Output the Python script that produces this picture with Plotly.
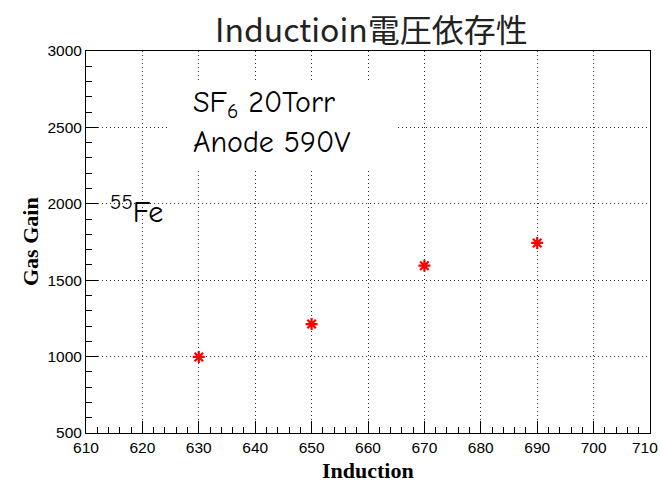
import plotly.graph_objects as go

# Induction voltage scan (SF6 20 Torr, anode 590 V, 55Fe source)
induction = [630, 650, 670, 690]
gas_gain = [998, 1213, 1595, 1744]

x_range = [610, 710]
y_range = [500, 3000]
x_ticks = list(range(610, 711, 10))

title_text = "Inductioin電圧依存性"
x_title = "Induction"
y_title = "Gas Gain"

W, H = 661, 482
margin = dict(l=86, r=11, t=51, b=49, autoexpand=False)
plot_w = W - margin["l"] - margin["r"]
plot_h = H - margin["t"] - margin["b"]


def px_x(px):
    return (px - margin["l"]) / plot_w


def px_y(py):
    return (H - margin["b"] - py) / plot_h


fig = go.Figure()
fig.add_trace(go.Scatter(
    x=induction, y=gas_gain, mode="markers",
    marker=dict(symbol="asterisk-open", size=10,
                line=dict(color="red", width=2.2), color="red"),
    showlegend=False,
))

tick_font = dict(family="Liberation Sans, Arial", size=15.5, color="black")
axis_common = dict(
    showline=True, mirror=True, linecolor="black", linewidth=1,
    ticks="inside", ticklen=12, tickcolor="black", tickwidth=1,
    showgrid=True, gridcolor="#333", griddash="1px,3px", gridwidth=1,
    zeroline=False, automargin=False, tickfont=tick_font,
)

# last x label is right-aligned at the canvas edge, so it is placed separately
fig.update_xaxes(range=x_range, tickvals=x_ticks,
                 ticktext=[str(v) if v != x_ticks[-1] else "" for v in x_ticks],
                 minor=dict(ticks="inside", ticklen=6, dtick=2, tickcolor="black", showgrid=False),
                 **axis_common)
fig.update_yaxes(range=y_range, dtick=500, tick0=500,
                 minor=dict(ticks="inside", ticklen=6, dtick=100, tickcolor="black", showgrid=False),
                 **axis_common)
fig.add_annotation(x=x_ticks[-1], xref="x", y=0, yref="paper", text=str(x_ticks[-1]),
                   xanchor="right", yanchor="top", xshift=10, yshift=-4,
                   showarrow=False, font=tick_font)

# white pave behind the run conditions
fig.add_shape(type="rect", xref="paper", yref="paper",
              x0=px_x(170), x1=px_x(396), y0=px_y(170), y1=px_y(80),
              fillcolor="white", line=dict(width=0), layer="above")

label_font = dict(family="Comic Sans MS, Comic Neue, DejaVu Sans", size=30, color="black")
annotations = [
    dict(text=title_text, x=px_x(371), y=px_y(28), font=dict(family="Noto Sans CJK JP", size=32, color="#222")),
    dict(text="SF<sub>6</sub> 20Torr", x=px_x(191), y=px_y(104), xanchor="left", font=label_font),
    dict(text="Anode 590V", x=px_x(191), y=px_y(142), xanchor="left", font=label_font),
    dict(text="<sup>55</sup>Fe", x=px_x(108), y=px_y(210), xanchor="left", font=label_font),
    dict(text="<b>" + x_title + "</b>", x=px_x(368), y=px_y(470),
         font=dict(family="Liberation Serif, Times New Roman", size=22, color="black")),
    dict(text="<b>" + y_title + "</b>", x=px_x(30), y=px_y(242), textangle=-90,
         font=dict(family="Liberation Serif, Times New Roman", size=22, color="black")),
]
for a in annotations:
    a.setdefault("xanchor", "center")
    fig.add_annotation(xref="paper", yref="paper", yanchor="middle",
                       showarrow=False, **a)

fig.update_layout(
    width=W, height=H, margin=margin,
    paper_bgcolor="white", plot_bgcolor="white",
)

fig.write_html("out.html")
